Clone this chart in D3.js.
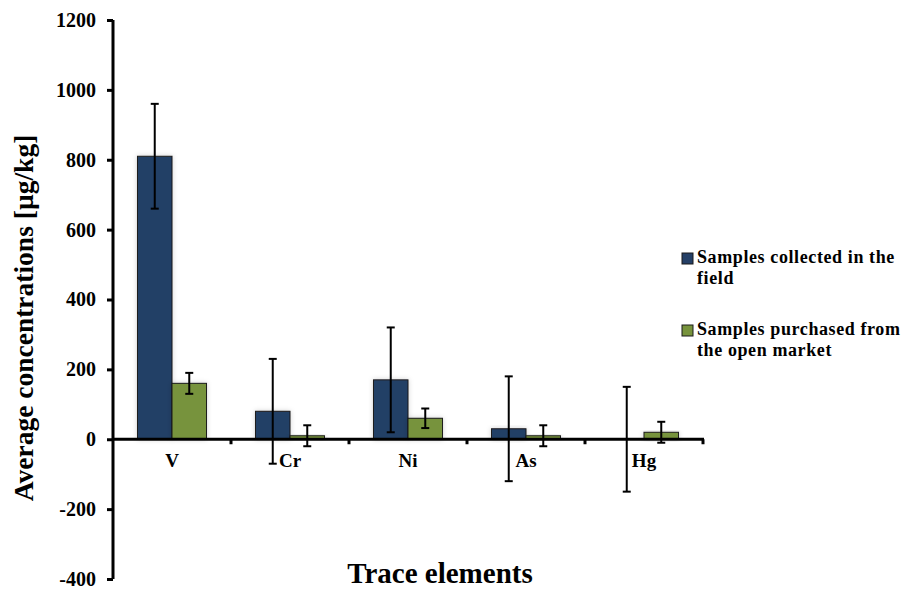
<!DOCTYPE html>
<html>
<head>
<meta charset="utf-8">
<script src="https://cdn.jsdelivr.net/npm/d3@7"></script>
<style>
  html, body { margin: 0; padding: 0; background: #fff; }
  svg { display: block; font-family: "Liberation Serif", "Times New Roman", serif; font-weight: bold; }
</style>
</head>
<body>
<svg id="chart" width="913" height="589"></svg>
<script>
// Trace element concentrations (µg/kg), means with standard deviations
const elements = ["V", "Cr", "Ni", "As", "Hg"];
const seriesNames = ["Samples collected in the field", "Samples purchased from the open market"];
const fieldMeans = [810, 80, 170, 30, 0];
const fieldErrors = [150, 150, 150, 150, 150];
const marketMeans = [160, 10, 60, 10, 20];
const marketErrors = [30, 30, 28, 30, 30];
const yTicks = [-400, -200, 0, 200, 400, 600, 800, 1000, 1200];
const colors = ["#243f66", "#77933c"];

const svg = d3.select("#chart");
const plot = { left: 113, right: 703, top: 20, bottom: 579 };

const y = d3.scaleLinear().domain([-400, 1200]).range([plot.bottom, plot.top]);
const x = d3.scaleBand().domain(elements).range([plot.left, plot.right]).paddingInner(0.415).paddingOuter(0.2075);
const xs = d3.scaleBand().domain([0, 1]).range([0, x.bandwidth()]);

const defs = svg.append("defs");
const shadow = defs.append("filter").attr("id", "shade").attr("x", "-30%").attr("y", "-30%").attr("width", "160%").attr("height", "160%");
shadow.append("feDropShadow").attr("dx", 0).attr("dy", 0).attr("stdDeviation", 2.5)
  .attr("flood-color", "#000").attr("flood-opacity", 0.18);

const rows = elements.map((e, i) => ({
  key: e,
  vals: [
    { s: 0, v: fieldMeans[i], err: fieldErrors[i] },
    { s: 1, v: marketMeans[i], err: marketErrors[i] }
  ]
}));

const groups = svg.append("g").selectAll("g").data(rows).join("g")
  .attr("transform", d => `translate(${x(d.key)},0)`);

groups.selectAll("rect").data(d => d.vals).join("rect")
  .attr("x", d => xs(d.s))
  .attr("width", xs.bandwidth())
  .attr("y", d => y(Math.max(0, d.v)))
  .attr("height", d => Math.abs(y(d.v) - y(0)))
  .attr("fill", d => colors[d.s])
  .attr("stroke", "#1b1b1b")
  .attr("stroke-width", 1)
  .attr("filter", "url(#shade)");

// Axes
const yAxis = d3.axisLeft(y).tickValues(yTicks).tickSize(6).tickPadding(11).tickFormat(d => String(d));
const gy = svg.append("g").attr("transform", `translate(${plot.left},0)`).call(yAxis);
gy.select(".domain").attr("stroke", "#000").attr("stroke-width", 3).attr("d", `M0,${plot.top}V${plot.bottom}`);
gy.selectAll(".tick line").attr("stroke", "#000").attr("stroke-width", 3);
gy.selectAll(".tick text").attr("fill", "#000").style("font-size", "20px")
  .style("font-family", "'Liberation Serif', serif").style("font-weight", "bold");

const gx = svg.append("g").attr("transform", `translate(0,${y(0)})`);
gx.append("line").attr("x1", plot.left).attr("x2", plot.right + 1).attr("y1", 0).attr("y2", 0)
  .attr("stroke", "#000").attr("stroke-width", 3);
const step = x.step();
const boundaries = elements.map((e, i) => plot.left + step * (i + 1));
gx.selectAll("line.bt").data(boundaries).join("line").attr("class", "bt")
  .attr("x1", d => d).attr("x2", d => d).attr("y1", 0).attr("y2", 5)
  .attr("stroke", "#000").attr("stroke-width", 3);
gx.selectAll("text").data(elements).join("text")
  .attr("x", d => x(d) + x.bandwidth() / 2)
  .attr("y", 28)
  .attr("text-anchor", "middle")
  .style("font-size", "19px")
  .text(d => d);

// Error bars
const errG = svg.append("g");
rows.forEach(r => {
  r.vals.forEach(d => {
    const cx = x(r.key) + xs(d.s) + xs.bandwidth() / 2;
    const g = errG.append("g").attr("stroke", "#000").attr("stroke-width", 2);
    g.append("line").attr("x1", cx).attr("x2", cx).attr("y1", y(d.v + d.err)).attr("y2", y(d.v - d.err));
    g.append("line").attr("x1", cx - 4).attr("x2", cx + 4).attr("y1", y(d.v + d.err)).attr("y2", y(d.v + d.err));
    g.append("line").attr("x1", cx - 4).attr("x2", cx + 4).attr("y1", y(d.v - d.err)).attr("y2", y(d.v - d.err));
  });
});

// Axis titles
svg.append("text")
  .attr("transform", `translate(33,318) rotate(-90)`)
  .attr("text-anchor", "middle")
  .style("font-size", "27.5px")
  .text("Average concentrations [µg/kg]");

svg.append("text")
  .attr("x", 440).attr("y", 583)
  .attr("text-anchor", "middle")
  .style("font-size", "29px")
  .text("Trace elements");

// Legend
const legendLines = [["Samples collected in the", "field"], ["Samples purchased from", "the open market"]];
const legend = svg.append("g").attr("transform", "translate(682,253)");
const items = legend.selectAll("g").data(legendLines).join("g")
  .attr("transform", (d, i) => `translate(0,${i * 72})`);
items.append("rect").attr("width", 11).attr("height", 11)
  .attr("fill", (d, i) => colors[i]).attr("stroke", "#1b1b1b").attr("stroke-width", 1);
items.append("text").attr("x", 15).attr("y", 10).style("font-size", "18px")
  .style("letter-spacing", "0.6px")
  .selectAll("tspan").data(d => d).join("tspan")
  .attr("x", 15).attr("dy", (d, i) => i === 0 ? 0 : 21)
  .text(d => d);
</script>
</body>
</html>
